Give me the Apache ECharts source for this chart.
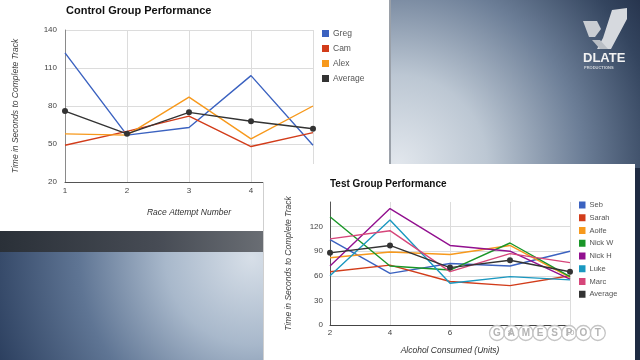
<!DOCTYPE html>
<html><head><meta charset="utf-8">
<script src="https://cdn.jsdelivr.net/npm/echarts@6/dist/echarts.min.js"></script>
<style>html,body{margin:0;padding:0;background:#1f2b42;}#c{width:640px;height:360px;}</style>
</head><body><div id="c"></div>
<script>
// ---- Control group data ----
const controlX = [1, 2, 3, 4, 5];
const greg = [122, 57, 63, 104, 49];
const cam = [49, 60, 72, 48, 59];
const alex = [58, 57, 87, 54, 80];
const controlAvg = [76, 58, 75, 68, 62];
const controlNames = ['Greg', 'Cam', 'Alex', 'Average'];

// ---- Test group data ----
const testX = [2, 4, 6, 8, 10];
const seb = [104, 63, 75, 72, 90];
const sarah = [65, 73, 53, 48, 60];
const aoife = [82, 89, 86, 97, 58];
const nickW = [132, 72, 67, 100, 59];
const nickH = [72, 142, 97, 90, 56];
const luke = [60, 128, 51, 59, 55];
const marc = [105, 115, 65, 87, 76];
const testAvg = [88, 97, 70, 79, 65];
const testNames = ['Seb', 'Sarah', 'Aoife', 'Nick W', 'Nick H', 'Luke', 'Marc', 'Average'];

const pairs = (xs, ys) => xs.map((x, i) => [x, ys[i]]);
const FONT = '"Liberation Sans", Arial, sans-serif';

function lineSeries(name, xs, ys, color, grid, z, isAvg) {
  return {
    type: 'line', name: name, xAxisIndex: grid, yAxisIndex: grid, z: z,
    data: pairs(xs, ys),
    showSymbol: !!isAvg, symbol: isAvg ? 'circle' : 'none', symbolSize: 6,
    lineStyle: { color: color, width: 1.4 },
    itemStyle: { color: color },
    emphasis: { disabled: true }
  };
}

const chart = echarts.init(document.getElementById('c'), null, { renderer: 'canvas' });

const gamespot = 'GAMESPOT'.split('');
const gsEls = [];
gamespot.forEach((ch, i) => {
  const cx = 497 + i * 14.4;
  gsEls.push({ type: 'circle', shape: { cx: cx, cy: 333, r: 7.5 }, style: { fill: 'rgba(255,255,255,0.55)', stroke: '#c4c4c4', lineWidth: 1.3 }, z: 30, silent: true });
  gsEls.push({ type: 'text', x: cx, y: 333.5, style: { text: ch, fill: '#b4b4b4', font: 'bold 10px ' + FONT, align: 'center', verticalAlign: 'middle' }, z: 31, silent: true });
});

const option = {
  animation: false,
  backgroundColor: '#1f2b42',
  textStyle: { fontFamily: FONT },
  graphic: [
    // right-top background
    { type: 'rect', shape: { x: 390, y: 0, width: 250, height: 168 }, z: -5, silent: true,
      style: { fill: { type: 'radial', x: 0.03, y: 0.98, r: 1.9, colorStops: [
        { offset: 0, color: '#e2e7ed' }, { offset: 0.28, color: '#bcc7d3' }, { offset: 0.58, color: '#6c7e97' },
        { offset: 0.82, color: '#34455f' }, { offset: 1, color: '#1c2740' }] } } },
    // bottom-left background
    { type: 'rect', shape: { x: 0, y: 240, width: 265, height: 120 }, z: -5, silent: true,
      style: { fill: { type: 'radial', x: 0.95, y: 0.15, r: 2.4, colorStops: [
        { offset: 0, color: '#d7dfe8' }, { offset: 0.3, color: '#a8b8cb' }, { offset: 0.6, color: '#5f7594' },
        { offset: 1, color: '#243757' }] } } },
    // dark strip under control panel
    { type: 'rect', shape: { x: 0, y: 230, width: 265, height: 22 }, z: -4, silent: true,
      style: { fill: { type: 'linear', x: 0, y: 0, x2: 1, y2: 0, colorStops: [
        { offset: 0, color: '#2a3038' }, { offset: 0.6, color: '#474c55' }, { offset: 1, color: '#6a6e74' }] } } },
    // control panel
    { type: 'rect', shape: { x: 0, y: 0, width: 390, height: 231 }, z: -3, silent: true, style: { fill: '#ffffff' } },
    { type: 'line', shape: { x1: 390, y1: 0, x2: 390, y2: 165 }, z: -2, silent: true, style: { stroke: '#9aa0a8', lineWidth: 2 } },
    // test panel (above control chart)
    { type: 'rect', shape: { x: 263, y: 164, width: 372, height: 196 }, z: 10, silent: true, style: { fill: '#ffffff' } },
    { type: 'line', shape: { x1: 263.5, y1: 182, x2: 263.5, y2: 360 }, z: 10, silent: true, style: { stroke: '#cfcfcf', lineWidth: 1 } },
    // logo
    { type: 'polygon', shape: { points: [[583, 21], [597, 21], [601, 29], [595, 37], [589, 37]] }, z: 30, silent: true, style: { fill: '#c9cdd3' } },
    { type: 'polygon', shape: { points: [[612, 10], [627, 8], [627, 19], [611, 49], [597, 49], [603, 38]] }, z: 30, silent: true, style: { fill: '#d6d9de' } },
    { type: 'polygon', shape: { points: [[592, 40], [600, 40], [608, 49], [600, 49]] }, z: 30, silent: true, style: { fill: '#b9bec5' } },
    { type: 'text', x: 583, y: 52, z: 30, silent: true, style: { text: 'DLATE', fill: '#f2f2f2', font: 'bold 13px ' + FONT } },
    { type: 'text', x: 584, y: 66, z: 30, silent: true, style: { text: 'PRODUCTIONS', fill: '#cfd3d8', font: 'bold 4px ' + FONT } }
  ].concat(gsEls),
  title: [
    { text: 'Control Group Performance', left: 66, top: 5, padding: 0, z: 3,
      textStyle: { fontSize: 11, fontWeight: 'bold', color: '#111', fontFamily: FONT } },
    { text: 'Test Group Performance', left: 330, top: 179, padding: 0, z: 12,
      textStyle: { fontSize: 10, fontWeight: 'bold', color: '#111', fontFamily: FONT } }
  ],
  legend: [
    { data: controlNames, orient: 'vertical', left: 322, top: 29, padding: 0, itemWidth: 7, itemHeight: 7, itemGap: 6,
      icon: 'rect', z: 3, selectedMode: false, textStyle: { fontSize: 8.5, color: '#555', padding: [0, 0, 0, -1] } },
    { data: testNames, orient: 'vertical', left: 579, top: 201, padding: 0, itemWidth: 6.5, itemHeight: 7, itemGap: 4.75,
      icon: 'rect', z: 12, selectedMode: false, textStyle: { fontSize: 7.5, color: '#555', padding: [0, 0, 0, -1] } }
  ],
  grid: [
    { left: 65, top: 30, width: 248, height: 152 },
    { left: 330, top: 202, width: 240, height: 123 }
  ],
  xAxis: [
    { gridIndex: 0, type: 'value', min: 1, max: 5, interval: 1, z: 1,
      axisLine: { lineStyle: { color: '#555', width: 1 } }, axisTick: { show: false },
      axisLabel: { fontSize: 8, color: '#444', margin: 5 },
      splitLine: { show: true, lineStyle: { color: '#dcdcdc' } },
      name: 'Race Attempt Number', nameLocation: 'middle', nameGap: 26,
      nameTextStyle: { fontStyle: 'italic', fontSize: 8.5, color: '#333' } },
    { gridIndex: 1, type: 'value', min: 2, max: 10, interval: 2, z: 11,
      axisLine: { lineStyle: { color: '#444', width: 1 } }, axisTick: { show: false },
      axisLabel: { fontSize: 8, color: '#444', margin: 4 },
      splitLine: { show: true, lineStyle: { color: '#dcdcdc' } },
      name: 'Alcohol Consumed (Units)', nameLocation: 'middle', nameGap: 21,
      nameTextStyle: { fontStyle: 'italic', fontSize: 8.5, color: '#333' } }
  ],
  yAxis: [
    { gridIndex: 0, type: 'value', min: 20, max: 140, interval: 30, z: 1,
      axisLine: { show: true, lineStyle: { color: '#8a8a8a', width: 1 } }, axisTick: { show: false },
      axisLabel: { fontSize: 8, color: '#444', margin: 8 },
      splitLine: { show: true, lineStyle: { color: '#dcdcdc' } },
      name: 'Time in Seconds to Complete Track', nameLocation: 'middle', nameGap: 45, nameRotate: 90,
      nameTextStyle: { fontStyle: 'italic', fontSize: 8.5, color: '#444' } },
    { gridIndex: 1, type: 'value', min: 0, max: 150, interval: 30, z: 11,
      axisLine: { show: true, lineStyle: { color: '#555', width: 1 } }, axisTick: { show: false },
      axisLabel: { fontSize: 8, color: '#444', margin: 7, showMaxLabel: false },
      splitLine: { show: true, showMaxLine: false, lineStyle: { color: '#dcdcdc' } },
      name: 'Time in Seconds to Complete Track', nameLocation: 'middle', nameGap: 37, nameRotate: 90,
      nameTextStyle: { fontStyle: 'italic', fontSize: 8.5, color: '#444' } }
  ],
  series: [
    lineSeries('Greg', controlX, greg, '#3b62c0', 0, 2),
    lineSeries('Cam', controlX, cam, '#d23c1a', 0, 2),
    lineSeries('Alex', controlX, alex, '#f7991c', 0, 2),
    lineSeries('Average', controlX, controlAvg, '#333333', 0, 2, true),
    lineSeries('Seb', testX, seb, '#3b62c0', 1, 12),
    lineSeries('Sarah', testX, sarah, '#d23c1a', 1, 12),
    lineSeries('Aoife', testX, aoife, '#f7991c', 1, 12),
    lineSeries('Nick W', testX, nickW, '#1a9628', 1, 12),
    lineSeries('Nick H', testX, nickH, '#92108f', 1, 12),
    lineSeries('Luke', testX, luke, '#1a98c0', 1, 12),
    lineSeries('Marc', testX, marc, '#d6467a', 1, 12),
    lineSeries('Average', testX, testAvg, '#333333', 1, 12, true)
  ]
};
chart.setOption(option);
</script></body></html>
